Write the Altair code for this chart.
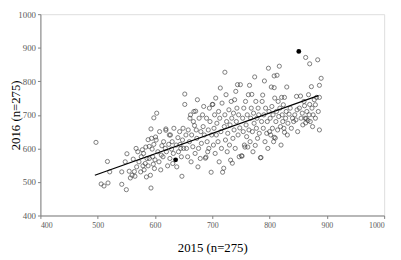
import altair as alt
import pandas as pd

# Open markers (2015 score, 2016 score)
xs = [497,506,511,517,518,521,542,542,550,551,555,564,548,560,557,562,
      565,568,572,575,578,580,581,584,586,588,590,592,593,593,595,596,597,598,598,590,585,576,570,583,599,594,588,579,567,600,
      601,602,603,605,607,610,612,614,615,618,619,619,620,622,624,626,627,629,630,632,633,637,638,640,641,643,645,646,647,648,649,650,611,625,631,644,608,
      652,652,654,655,657,658,660,661,663,664,666,667,668,670,671,672,673,674,676,677,679,680,681,683,684,686,688,689,690,691,693,694,695,696,698,699,700,685,662,675,692,669,
      701,702,703,704,705,706,707,708,710,711,712,713,715,716,717,718,720,721,722,722,723,724,725,726,727,729,730,731,732,733,734,735,736,737,738,740,741,742,743,744,745,746,747,748,749,714,739,
      751,752,753,754,755,756,757,758,759,760,761,762,763,764,765,766,767,768,769,770,771,772,773,774,775,776,777,778,779,780,781,782,784,785,786,787,788,789,790,791,792,793,795,796,797,798,799,800,
      801,802,803,804,805,806,807,808,808,808,809,810,811,812,813,814,815,816,817,818,819,820,821,822,823,824,825,826,826,828,829,830,831,832,834,836,838,840,842,844,846,848,849,
      847,852,854,855,857,858,860,861,862,863,864,865,867,868,869,870,870,871,873,874,876,878,880,882,884,885,887,887,887,890,863,875,880]
ys = [618,494,488,561,497,530,530,493,477,584,532,531,560,520,512,568,
      517,545,560,530,596,585,536,604,570,548,606,520,658,482,598,575,553,691,612,570,515,575,590,555,540,630,626,548,600,566,
      634,625,705,590,560,536,608,575,620,600,658,654,590,548,612,570,640,598,620,585,660,610,545,632,590,650,600,575,517,625,660,600,580,640,555,612,650,
      762,731,640,600,575,655,620,690,560,640,605,680,710,585,711,655,630,745,600,690,570,650,615,700,665,640,571,574,690,620,655,600,720,680,529,640,731,725,700,545,590,668,
      731,610,660,700,585,750,640,675,620,710,560,690,650,600,735,529,541,665,827,700,625,760,680,590,645,715,610,670,565,740,690,556,630,705,655,600,770,680,720,790,640,700,575,661,790,780,745,
      578,577,690,650,720,610,604,740,670,635,700,604,760,655,788,620,690,720,761,650,590,705,675,813,609,740,660,690,630,720,700,645,572,573,680,740,759,660,700,801,620,720,645,680,600,839,710,650,
      690,640,783,725,660,700,620,781,816,633,750,631,680,710,818,655,740,695,845,720,665,610,752,700,680,730,660,752,648,690,710,783,640,675,702,720,660,690,680,700,685,715,650,
      755,720,756,690,705,670,740,727,690,676,689,710,683,760,700,731,852,680,784,720,700,745,730,752,864,710,752,788,655,809,871,665,690]

# Highlighted (filled) markers
hx = [636, 851]
hy = [566, 889]

# Regression line end points
lx = [495, 885]
ly = [520, 757]

ticks = [400, 500, 600, 700, 800, 900, 1000]

pts = pd.DataFrame({"x": xs, "y": ys, "kind": "pt"})
hl = pd.DataFrame({"x": hx, "y": hy, "kind": "hl"})
ln = pd.DataFrame({"x": lx, "y": ly, "kind": "ln"})

xscale = alt.Scale(domain=[400, 1000], nice=False, zero=False)
yscale = alt.Scale(domain=[400, 1000], nice=False, zero=False)

xaxis = alt.Axis(values=ticks, format="d", labelOverlap=False, title="2015 (n=275)", grid=False,
                 domainColor="#808080", tickColor="#808080", tickSize=3,
                 labelFont="Liberation Serif", labelFontSize=8, labelColor="#595959",
                 labelPadding=3, titleFont="Liberation Serif", titleFontSize=13,
                 titleFontWeight="normal", titleColor="#000000", titlePadding=13)
yaxis = alt.Axis(values=ticks, format="d", labelOverlap=False, title="2016 (n=275)", grid=False,
                 domainColor="#808080", tickColor="#808080", tickSize=3,
                 labelFont="Liberation Serif", labelFontSize=9, labelColor="#595959",
                 labelPadding=2, titleFont="Liberation Serif", titleFontSize=13,
                 titleFontWeight="normal", titleColor="#000000", titleX=-18)

enc_x = alt.X("x:Q", scale=xscale, axis=xaxis)
enc_y = alt.Y("y:Q", scale=yscale, axis=yaxis)

scatter = alt.Chart(pts).mark_point(shape="circle", filled=False, size=18,
                                    strokeWidth=0.9, color="#333333").encode(x=enc_x, y=enc_y)
line = alt.Chart(ln).mark_line(color="#000000", strokeWidth=1.3).encode(x=enc_x, y=enc_y)
filled = alt.Chart(hl).mark_point(shape="circle", filled=True, size=24,
                                  color="#000000", opacity=1).encode(x=enc_x, y=enc_y)

chart = alt.layer(scatter, line, filled).properties(
    width=350, height=205,
    autosize=alt.AutoSizeParams(type="none"),
    padding={"left": 33, "top": 4, "right": 9, "bottom": 43},
).configure_view(stroke=None).configure(background="white")

chart.save("out.html", embed_options={"renderer": "svg", "actions": False})
